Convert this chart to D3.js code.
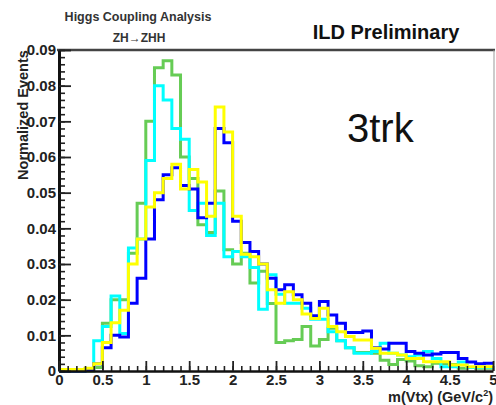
<!DOCTYPE html>
<html>
<head>
<meta charset="utf-8">
<script src="https://cdn.jsdelivr.net/npm/d3@7"></script>
<style>
  html, body { margin: 0; padding: 0; background: #fff; }
  svg { display: block; }
  text { font-family: "Liberation Sans", Arial, Helvetica, sans-serif; }
</style>
</head>
<body>
<svg id="chart" width="496" height="405"></svg>
<script>
// ---- data (bin width 0.1, bins from 0.0 to 4.9) ----
const binEdges = d3.range(0, 50).map(i => i / 10);
const blueVals = [0,0,0,0.0003,0.002,0.0065,0.010,0.0095,0.019,0.026,
  0.037,0.048,0.055,0.057,0.052,0.051,0.043,0.047,0.068,0.064,
  0.042,0.036,0.0335,0.030,0.026,0.0228,0.0242,0.0214,0.019,0.0155,
  0.0195,0.0157,0.0134,0.0108,0.0108,0.0112,0.0065,0.0062,0.0078,0.0078,
  0.0055,0.005,0.0045,0.0048,0.0052,0.0052,0.0035,0.0025,0.002,0.0022];
const cyanVals = [0,0,0,0.0005,0.0085,0.0125,0.021,0.0105,0.0345,0.037,
  0.059,0.080,0.076,0.068,0.065,0.045,0.047,0.038,0.047,0.032,
  0.0335,0.032,0.029,0.0173,0.027,0.0215,0.019,0.019,0.0176,0.0145,
  0.0145,0.011,0.0085,0.0065,0.005,0.005,0.0055,0.0078,0.005,0.0045,
  0.004,0.0045,0.0055,0.0035,0.0012,0.0012,0.0025,0.001,0.001,0.001];
const greenVals = [0,0,0,0,0.001,0.0134,0.020,0.020,0.033,0.047,
  0.070,0.085,0.087,0.083,0.060,0.054,0.041,0.0388,0.0505,0.034,
  0.030,0.033,0.0247,0.028,0.0189,0.008,0.0085,0.0088,0.0125,0.007,
  0.0088,0.012,0.0085,0.0065,0.0052,0.0052,0.005,0.003,0.0018,0.0032,
  0.0028,0.0015,0.0012,0.0022,0.002,0.0018,0.0008,0.001,0.0008,0.0008];
const yellowVals = [0.0004,0.0004,0.0004,0.0008,0.002,0.008,0.0135,0.017,0.030,0.037,
  0.046,0.050,0.054,0.058,0.051,0.0565,0.053,0.0434,0.074,0.067,
  0.0434,0.0327,0.032,0.030,0.0228,0.019,0.0222,0.020,0.016,0.0147,
  0.0176,0.0125,0.011,0.0097,0.0087,0.0087,0.0064,0.005,0.005,0.0045,
  0.0035,0.0035,0.0026,0.0026,0.0026,0.0017,0.0017,0.0012,0.0012,0.0012];

const xMajorTicks = [0, 0.5, 1, 1.5, 2, 2.5, 3, 3.5, 4, 4.5, 5];
const xTickLabels = ["0", "0.5", "1", "1.5", "2", "2.5", "3", "3.5", "4", "4.5", "5"];
const yMajorTicks = [0, 0.01, 0.02, 0.03, 0.04, 0.05, 0.06, 0.07, 0.08, 0.09];
const yTickLabels = ["0", "0.01", "0.02", "0.03", "0.04", "0.05", "0.06", "0.07", "0.08", "0.09"];

const seriesList = [
  { name: "green", values: greenVals, color: "#66cc55" },
  { name: "cyan", values: cyanVals, color: "#00ffff" },
  { name: "blue", values: blueVals, color: "#0000ff" },
  { name: "yellow", values: yellowVals, color: "#ffff00" }
];

// ---- layout ----
const svg = d3.select("#chart");
const x = d3.scaleLinear().domain([0, 5]).range([59, 493]);
const y = d3.scaleLinear().domain([0, 0.09]).range([371, 50]);

// frame (top and right)
svg.append("line").attr("x1", 57).attr("x2", 495).attr("y1", y(0.09)).attr("y2", y(0.09))
  .attr("stroke", "#444").attr("stroke-width", 2.5);
svg.append("line").attr("x1", x(5) + 1).attr("x2", x(5) + 1).attr("y1", y(0.09)).attr("y2", y(0))
  .attr("stroke", "#999").attr("stroke-width", 1);

// histograms
const line = d3.line()
  .x(d => x(d[0]))
  .y(d => y(d[1]))
  .curve(d3.curveStepAfter);

seriesList.forEach(s => {
  const pts = s.values.map((v, i) => [binEdges[i], v]);
  pts.push([5, s.values[s.values.length - 1]]);
  svg.append("path")
    .attr("d", line(pts))
    .attr("fill", "none")
    .attr("stroke", s.color)
    .attr("stroke-width", 3)
    .attr("stroke-linejoin", "miter");
});

// y axis minor
svg.append("g").attr("transform", `translate(${x(0)},0)`)
  .call(d3.axisLeft(y).tickValues(d3.range(0, 0.0901, 0.002)).tickSize(-6).tickFormat(""))
  .call(g => g.select(".domain").remove())
  .selectAll("line").attr("stroke", "#222").attr("stroke-width", 1.6);
// y axis major
const yAx = svg.append("g").attr("transform", `translate(${x(0)},0)`)
  .call(d3.axisLeft(y).tickValues(yMajorTicks).tickSize(-12).tickSizeOuter(0).tickPadding(3)
    .tickFormat((d, i) => yTickLabels[i]));
yAx.select(".domain").attr("stroke", "#111").attr("stroke-width", 3);
yAx.selectAll("line").attr("stroke", "#222").attr("stroke-width", 1.8);
yAx.selectAll("text").attr("font-size", 15).attr("font-weight", "bold").attr("fill", "#222")
  .attr("font-family", "Liberation Sans, Arial, sans-serif");

// x axis minor
svg.append("g").attr("transform", `translate(0,${y(0)})`)
  .call(d3.axisBottom(x).tickValues(d3.range(0, 5.001, 0.1)).tickSize(-5).tickFormat(""))
  .call(g => g.select(".domain").remove())
  .selectAll("line").attr("stroke", "#222").attr("stroke-width", 1.6);
// x axis major
const xAx = svg.append("g").attr("transform", `translate(0,${y(0)})`)
  .call(d3.axisBottom(x).tickValues(xMajorTicks).tickSize(-10).tickSizeOuter(0).tickPadding(3)
    .tickFormat((d, i) => xTickLabels[i]));
xAx.select(".domain").attr("stroke", "#111").attr("stroke-width", 2.5);
xAx.selectAll("line").attr("stroke", "#222").attr("stroke-width", 1.8);
xAx.selectAll("text").attr("font-size", 15).attr("font-weight", "bold").attr("fill", "#222")
  .attr("font-family", "Liberation Sans, Arial, sans-serif");

// axis titles
svg.append("text")
  .attr("transform", "translate(28,115) rotate(-90)")
  .attr("text-anchor", "middle")
  .attr("font-size", 14.5).attr("font-weight", "bold").attr("fill", "#222")
  .text("Normalized Events");

const xt = svg.append("text")
  .attr("x", 493).attr("y", 402)
  .attr("text-anchor", "end")
  .attr("font-size", 14.5).attr("font-weight", "bold").attr("fill", "#222");
xt.append("tspan").text("m(Vtx) (GeV/c");
xt.append("tspan").attr("font-size", 9).attr("dy", -6).text("2");
xt.append("tspan").attr("dy", 6).text(")");

// header texts
svg.append("text").attr("x", 138).attr("y", 21).attr("text-anchor", "middle")
  .attr("font-size", 12.5).attr("font-weight", "bold").attr("fill", "#333")
  .text("Higgs Coupling Analysis");
svg.append("text").attr("x", 139).attr("y", 42).attr("text-anchor", "middle")
  .attr("font-size", 12).attr("font-weight", "bold").attr("fill", "#333")
  .text("ZH→ZHH");
svg.append("text").attr("x", 386).attr("y", 39).attr("text-anchor", "middle")
  .attr("font-size", 20).attr("font-weight", "bold").attr("fill", "#111")
  .text("ILD Preliminary");

// label
svg.append("text").attr("x", 347).attr("y", 142)
  .attr("font-family", "DejaVu Sans, Noto Sans, sans-serif")
  .attr("font-size", 40).attr("fill", "#111")
  .text("3trk");
</script>
</body>
</html>
